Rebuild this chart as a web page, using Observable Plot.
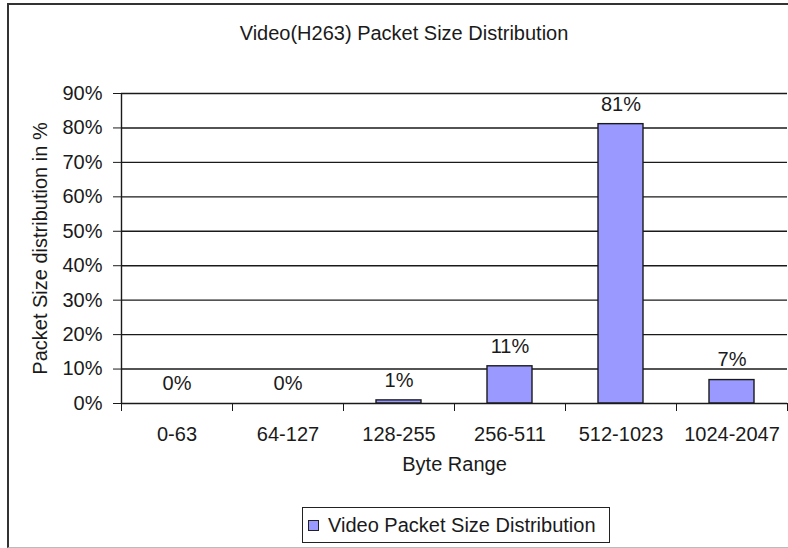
<!DOCTYPE html>
<html>
<head>
<meta charset="utf-8">
<script src="https://cdn.jsdelivr.net/npm/d3@7"></script>
<script src="https://cdn.jsdelivr.net/npm/@observablehq/plot@0.6"></script>
<style>
  html, body { margin: 0; padding: 0; background: #fff; overflow: hidden; }
  body { width: 788px; height: 548px; position: relative; font-family: "Liberation Sans", Arial, sans-serif; color: #1a1a1a; }
  #frame { position: absolute; left: 7px; top: 3px; width: 800px; height: 545px; box-sizing: border-box;
           border-left: 2px solid #333; border-top: 2px solid #333; border-bottom: 1px solid #bbb; }
  #title { position: absolute; left: 0; top: 21px; width: 808px; text-align: center; font-size: 20px; line-height: 24px; }
  #chart { position: absolute; left: 0; top: 60px; }
  #legend { position: absolute; left: 302px; top: 507px; width: 308px; height: 36px; box-sizing: border-box;
            border: 1px solid #222; display: flex; align-items: center; font-size: 20px; }
  #legend .sw { width: 11px; height: 11px; box-sizing: border-box; border: 1px solid #222; background: #9999ff; margin-left: 5px; margin-right: 9px; }
</style>
</head>
<body>
<div id="frame"></div>
<div id="title"></div>
<div id="chart"></div>
<div id="legend"><span class="sw"></span><span id="legendText"></span></div>
<script>
const title = "Video(H263) Packet Size Distribution";
const categories = ["0-63", "64-127", "128-255", "256-511", "512-1023", "1024-2047"];
const values = [0, 0, 0.9, 10.8, 81.1, 6.8];
const valueLabels = ["0%", "0%", "1%", "11%", "81%", "7%"];
const yTicks = [0, 10, 20, 30, 40, 50, 60, 70, 80, 90];
const xTitle = "Byte Range";
const yTitle = "Packet Size distribution in %";
const seriesName = "Video Packet Size Distribution";

document.getElementById("title").textContent = title;
document.getElementById("legendText").textContent = seriesName;

const data = categories.map((c, i) => ({cat: c, i, value: values[i], label: valueLabels[i]}));
const boundaries = d3.range(categories.length + 1);

const ink = "#1a1a1a";
const chart = Plot.plot({
  width: 788,
  height: 430,
  marginLeft: 121,
  marginRight: 1,
  marginTop: 33,
  marginBottom: 87,
  style: {fontFamily: "'Liberation Sans', Arial, sans-serif", fontSize: "20px", color: ink, background: "transparent", overflow: "visible"},
  x: {type: "linear", domain: [0, categories.length], axis: null},
  y: {domain: [0, 90], axis: null},
  marks: [
    Plot.ruleY(yTicks.filter(d => d > 0), {stroke: ink, strokeWidth: 1.4}),
    Plot.axisY({ticks: yTicks, tickSize: 8, tickPadding: 11, tickFormat: d => d + "%", label: null, stroke: ink, fontSize: 20}),
    Plot.axisX({ticks: boundaries, tickSize: 8, tickFormat: () => "", label: null, stroke: ink}),
    Plot.rectY(data, {x1: d => d.i, x2: d => d.i + 1, y: "value", insetLeft: 33, insetRight: 33, fill: "#9999ff", stroke: ink, strokeWidth: 1.4}),
    Plot.ruleX([0], {stroke: ink, strokeWidth: 1.4}),
    Plot.ruleY([0], {stroke: ink, strokeWidth: 1.4}),
    Plot.text(data, {x: d => d.i + 0.5, y: "value", text: "label", dy: -20, fontSize: 20, fill: ink}),
    Plot.text(data, {x: d => d.i + 0.5, y: () => 0, text: "cat", dy: 31, fontSize: 20, fill: ink}),
    Plot.text([xTitle], {frameAnchor: "bottom", dy: 67, fontSize: 20, fill: ink}),
    Plot.text([yTitle], {frameAnchor: "left", rotate: -90, textAnchor: "middle", dx: -81, dy: 0, fontSize: 20, fill: ink})
  ]
});
document.getElementById("chart").appendChild(chart);
</script>
</body>
</html>
